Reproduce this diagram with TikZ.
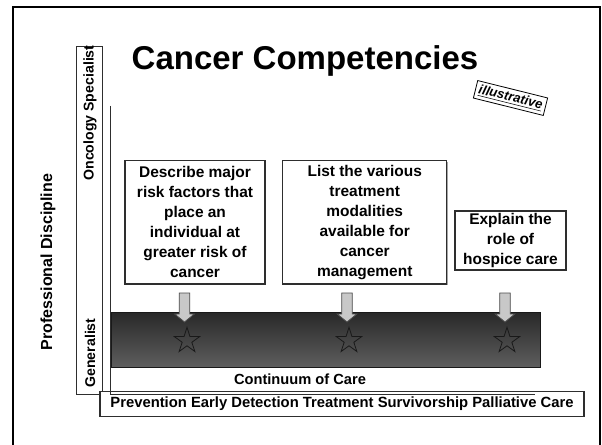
\documentclass[tikz,border=0pt]{standalone}
\usepackage{fontspec}
\setmainfont{Liberation Sans}
\usetikzlibrary{shapes.geometric,shadows}
\definecolor{barTop}{HTML}{282828}
\definecolor{barBot}{HTML}{5E5E5E}
\definecolor{arrFill}{HTML}{C8C8C8}
\definecolor{edge}{HTML}{2E2E2E}
\tikzset{
  txtbox/.style={draw=edge, line width=0.8pt, fill=white, align=center, inner sep=0pt,
    font=\fontsize{11.6}{15}\selectfont\bfseries,
    drop shadow={shadow xshift=1pt, shadow yshift=-1pt, fill=black!35, opacity=1}},
  lbl/.style={font=\fontsize{11}{13}\selectfont\bfseries, inner sep=0pt},
  vlbl/.style={font=\fontsize{10.6}{12}\selectfont\bfseries, inner sep=0pt, rotate=90},
  starnode/.style={star, star points=5, star point ratio=2.618, draw=black!90, line width=0.6pt,
    minimum size=20pt, inner sep=0pt},
  barrow/.style={draw=black!70, line width=0.6pt, fill=arrFill},
  axisline/.style={draw=edge, line width=0.7pt}
}
\newcommand\blockarrow[1]{%
  \draw[barrow] (#1-5.3,293) -- ++(10.6,0) -- ++(0,21) -- ++(4.5,0) -- ++(-9.8,8)
    -- ++(-9.8,-8) -- ++(4.5,0) -- cycle;}
\begin{document}
\begin{tikzpicture}[x=0.75pt,y=-0.75pt]
\useasboundingbox (0,0) rectangle (602,445);
\fill[white] (0,0) rectangle (602,445);
% slide frame
\draw[line width=2pt] (13,446) -- (13,7) -- (600,7) -- (600,446);
% title
\node[font=\fontsize{24.75}{28}\selectfont\bfseries, anchor=base, inner sep=0pt] (title) at (305,70) {Cancer Competencies};
% illustrative stamp
\node[draw=black, line width=0.6pt, rotate=-14, font=\fontsize{9.8}{11}\selectfont\bfseries\itshape,
  minimum width=54pt, minimum height=13.5pt, inner sep=0.5pt] (illus) at (510.5,98) {\underline{illustrative}};
% vertical discipline box
\node[draw=edge, line width=0.7pt, minimum width=19.5pt, minimum height=260.9pt, inner sep=0pt] (vbox) at (89,220.4) {};
\node[vlbl] (onc) at (90,113) {Oncology Specialist};
\node[vlbl] (gen) at (90,353) {Generalist};
\node[font=\fontsize{12}{14}\selectfont\bfseries, inner sep=0pt, rotate=90] (prof) at (48,262) {Professional Discipline};
% bottom stages box
\node[draw=edge, line width=0.8pt, fill=white, minimum width=363pt, minimum height=18.2pt, inner sep=0pt,
  font=\fontsize{11.1}{13}\selectfont\bfseries,
  drop shadow={shadow xshift=1pt, shadow yshift=-1pt, fill=black!35, opacity=1}] (stages) at (342,403.9)
  {Prevention Early Detection Treatment Survivorship Palliative Care};
% axes
\coordinate (ax1) at (110,106);
\coordinate (ax2) at (110,394);
\coordinate (ax3) at (535,394);
\draw[axisline] (ax1) -- (ax2) -- (ax3);
% continuum bar
\node[draw=black!90, line width=0.6pt, top color=barTop, bottom color=barBot,
  minimum width=321.75pt, minimum height=41.25pt, inner sep=0pt] (bar) at (325.5,339.5) {};
\node[lbl] (cont) at (300,379) {Continuum of Care};
% competency boxes
\node[txtbox, minimum width=105pt, minimum height=92.5pt] (b1) at (195,222.3)
  {Describe major\\risk factors that\\place an\\individual at\\greater risk of\\cancer};
\node[txtbox, minimum width=123pt, minimum height=92.5pt] (b2) at (364.7,222.3)
  {List the various\\treatment\\modalities\\available for\\cancer\\management};
\node[txtbox, minimum width=83.25pt, minimum height=44.25pt] (b3) at (510.5,240.5)
  {Explain the\\role of\\hospice care};
% arrows
\blockarrow{184.5}
\blockarrow{347}
\blockarrow{505}
% stars
\node[starnode] (s1) at (187,340.7) {};
\node[starnode] (s2) at (349,340.7) {};
\node[starnode] (s3) at (507,340.7) {};
\end{tikzpicture}
\end{document}
